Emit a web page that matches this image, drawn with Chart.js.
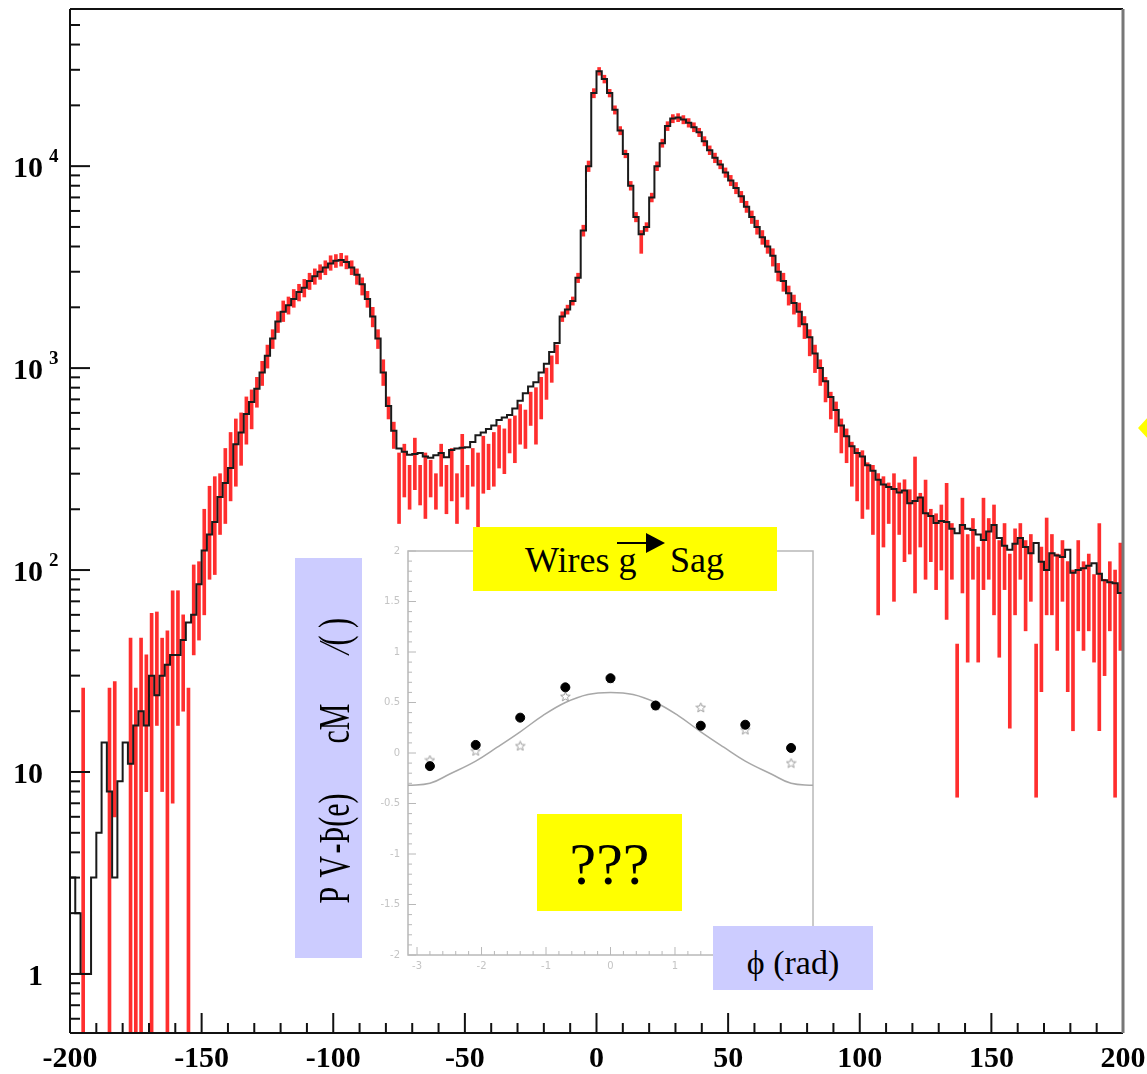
<!DOCTYPE html>
<html>
<head>
<meta charset="utf-8">
<title>Counts vs position, with sag inset</title>
<script src="https://cdn.jsdelivr.net/npm/chart.js@4.4.1/dist/chart.umd.min.js"></script>
<style>
  html, body { margin: 0; padding: 0; background: #fff; }
  #page { position: relative; width: 1147px; height: 1074px; overflow: hidden; }
  canvas { position: absolute; }
  #main { left: 0; top: 0; }
  #inset { left: 360px; top: 530px; }
  .note { position: absolute; font-family: 'Liberation Serif', 'Times New Roman', serif; color: #000; }
  .note span { position: absolute; white-space: pre; }
  .yellow { background: #ffff00; }
  .blue { background: #ccccff; }
</style>
</head>
<body>
<div id="page">
  <canvas id="main" width="1147" height="1074"></canvas>
  <canvas id="inset" width="470" height="460"></canvas>

  <div class="note yellow" style="left:473px;top:527px;width:304px;height:64px;font-size:36px;line-height:36px;">
    <span style="left:52px;top:15px;">Wires g</span>
    <span style="left:197px;top:15px;">Sag</span>
    <div style="position:absolute;left:144px;top:15px;width:30px;height:2px;background:#000;"></div>
    <div style="position:absolute;left:173px;top:6px;width:0;height:0;border-left:19px solid #000;border-top:10px solid transparent;border-bottom:10px solid transparent;"></div>
  </div>

  <div class="note yellow" style="left:537px;top:814px;width:145px;height:97px;">
    <span style="left:0;top:20px;width:145px;text-align:center;font-size:60px;line-height:60px;">???</span>
  </div>

  <div class="note blue" style="left:713px;top:926px;width:160px;height:64px;">
    <span style="left:0;top:20px;width:160px;text-align:center;font-size:34px;line-height:34px;">ϕ (rad)</span>
  </div>

  <div class="note blue" style="left:295px;top:558px;width:67px;height:400px;">
    <div style="position:absolute;left:-166.5px;top:166.5px;width:400px;height:67px;transform:rotate(-90deg) scaleY(1.45);font-size:30px;line-height:30px;">
      <span style="left:55px;top:22px;">P</span>
      <span style="left:81px;top:22px;">V</span>
      <span style="left:105px;top:22px;">-Þ(e)</span>
      <span style="left:215px;top:22px;">cM</span>
      <span style="left:308px;top:22px;">⁄( )</span>
    </div>
  </div>

  <div style="position:absolute;left:1138px;top:416px;width:0;height:0;border-right:11px solid #ffff00;border-top:12px solid transparent;border-bottom:12px solid transparent;"></div>
</div>

<script>
// histogram binning: 200 bins of width 2 from -200 to 200
const xStart = -200;
const binWidth = 2;

const blackCounts = [
    3, 2, 1, 1, 3, 5, 14, 8, 3, 9,
    14, 11, 17, 20, 17, 30, 24, 30, 34, 38,
    38, 45, 55, 60, 85, 125, 150, 173, 230, 270,
    320, 420, 480, 593, 680, 790, 950, 1150, 1400, 1700,
    1900, 2050, 2200, 2380, 2500, 2700, 2850, 3000, 3150, 3300,
    3400, 3430, 3350, 3150, 2900, 2600, 2200, 1800, 1400, 950,
    650, 490, 400, 385, 372, 375, 380, 365, 360, 370,
    380, 362, 393, 400, 403, 406, 430, 465, 480, 500,
    520, 553, 570, 585, 630, 690, 750, 810, 850, 950,
    1050, 1200, 1330, 1800, 1950, 2150, 2800, 4800, 10000, 23000,
    29500, 27000, 23000, 19000, 15000, 11500, 8000, 5600, 4600, 5000,
    7000, 10000, 13000, 15800, 17200, 17400, 17000, 16400, 15600, 14700,
    13300, 12000, 11000, 10200, 9300, 8500, 7800, 7100, 6300, 5600,
    5000, 4450, 4000, 3600, 3000, 2700, 2350, 2100, 1900, 1650,
    1420, 1180, 1000, 860, 720, 620, 520, 460, 410, 380,
    365, 330, 310, 280, 265, 258, 252, 242, 248, 214,
    220, 229, 191, 185, 171, 175, 173, 160, 152, 167,
    160, 158, 150, 141, 155, 167, 144, 132, 126, 135,
    144, 130, 121, 136, 110, 100, 121, 118, 116, 126,
    97, 100, 102, 105, 108, 96, 89, 87, 86, 77,
];

// red error bars, lower and upper ends (null = empty bin)
const redLow = [
    null, null, 0.1, null, null, null, null, 0.1, 6, null,
    null, 0.1, 0.1, 0.1, 8, 0.1, 17, 8, 0.1, 7,
    17, 20, 0.1, 38, 45, 60, 90, 95, 150, 170,
    220, 260, 330, 420, 500, 640, 820, 1000, 1250, 1500,
    1700, 1850, 2000, 2150, 2250, 2450, 2600, 2750, 2900, 3050,
    3150, 3200, 3100, 2900, 2600, 2300, 2000, 1600, 1250, 820,
    560, 400, 170, 230, 200, 250, 210, 180, 230, 200,
    260, 190, 220, 170, 230, 200, 260, 160, 240, 250,
    260, 320, 300, 380, 340, 420, 400, 520, 420, 560,
    700, 850, 1050, 1700, 1850, 2050, 2650, 4500, 9400, 21800,
    28200, 25800, 22000, 18100, 14300, 11000, 7600, 5300, 3700, 4750,
    6650, 9500, 12400, 15000, 16400, 16600, 16200, 15600, 14800, 14000,
    12600, 11400, 10400, 9700, 8800, 8000, 7300, 6600, 5900, 5200,
    4600, 4100, 3700, 3200, 2700, 2400, 2050, 1850, 1600, 1400,
    1150, 950, 820, 680, 560, 480, 380, 340, 260, 220,
    180, 200, 150, 60, 130, 170, 70, 150, 110, 120,
    77, 130, 90, 110, 80, 100, 57, 90, 7.5, 77,
    35, 90, 35, 80, 90, 60, 37, 80, 16.5, 60,
    90, 50, 70, 7.5, 25, 60, 60, 40, 70, 25,
    16, 50, 40, 50, 35, 16, 30, 50, 7.5, 40,
];
const redHigh = [
    null, null, 26, null, null, null, null, 26, 28, null,
    null, 46, 26, 46, 38, 61, 62, 46, 50, 79,
    79, 60, 26, 106, 110, 200, 260, 290, 300, 400,
    480, 560, 600, 720, 780, 900, 1080, 1300, 1550, 1900,
    2150, 2250, 2450, 2600, 2750, 2950, 3100, 3250, 3400, 3600,
    3650, 3700, 3600, 3400, 3100, 2800, 2400, 2000, 1550, 1100,
    720, 540, 380, 420, 330, 450, 330, 380, 350, 300,
    420, 330, 400, 300, 470, 330, 400, 380, 460, 420,
    480, 520, 500, 560, 580, 660, 620, 760, 800, 900,
    1000, 1150, 1300, 1900, 2050, 2250, 2950, 5100, 10600, 24200,
    30800, 28200, 24000, 19900, 15700, 12000, 8400, 5900, 4800, 5250,
    7350, 10500, 13600, 16600, 18000, 18200, 17800, 17200, 16400, 15400,
    14000, 12600, 11600, 10700, 9800, 9000, 8300, 7500, 6700, 6000,
    5400, 4800, 4300, 3900, 3300, 2950, 2550, 2300, 2100, 1800,
    1550, 1300, 1100, 900, 760, 680, 560, 500, 430, 400,
    390, 340, 330, 300, 290, 270, 300, 270, 280, 250,
    363, 240, 279, 200, 190, 210, 269, 170, 43, 227,
    150, 180, 130, 227, 180, 210, 140, 170, 120, 160,
    170, 140, 150, 43, 130, 181, 150, 120, 140, 110,
    100, 140, 110, 120, 95, 170, 90, 110, 100, 136,
];

const xTickLabels = [-200, -150, -100, -50, 0, 50, 100, 150, 200];
const yTickPowers = [0, 1, 2, 3, 4];

// inset: sag vs phi
const insetPhi = [-2.80, -2.09, -1.40, -0.70, 0.00, 0.70, 1.40, 2.09, 2.80];
const insetDots = [-0.13, 0.08, 0.35, 0.65, 0.74, 0.47, 0.27, 0.28, 0.05];
const insetStars = [-0.07, 0.02, 0.07, 0.56, 0.74, 0.47, 0.45, 0.23, -0.10];
const fitPhi = [-3.14, -2.8, -2.5, -2.09, -1.75, -1.4, -1.05, -0.7, -0.35, 0, 0.35, 0.7, 1.05, 1.4, 1.75, 2.09, 2.5, 2.8, 3.14];
const fitValues = [-0.32, -0.30, -0.21, -0.08, 0.06, 0.21, 0.37, 0.50, 0.58, 0.60, 0.58, 0.50, 0.37, 0.21, 0.06, -0.08, -0.21, -0.30, -0.32];
const insetXTicks = [-3, -2, -1, 0, 1, 2, 3];
const insetYTicks = [-2, -1.5, -1, -0.5, 0, 0.5, 1, 1.5, 2];

const serif = "'Liberation Serif', 'Times New Roman', serif";

function blackSteps() {
    let pts = blackCounts.map((v, i) => ({x: xStart + i * binWidth, y: v}));
    pts.push({x: xStart + blackCounts.length * binWidth, y: blackCounts[blackCounts.length - 1]});
    return pts;
}

function redBars() {
    let bars = [];
    redLow.forEach((lo, i) => {
        if (lo === null) return;
        bars.push({x: xStart + (i + 0.5) * binWidth, y: [lo, redHigh[i]]});
    });
    return bars;
}

function line(ctx, x1, y1, x2, y2) {
    ctx.beginPath();
    ctx.moveTo(x1, y1);
    ctx.lineTo(x2, y2);
    ctx.stroke();
}

// hollow five point star used as marker in the inset
function starMarker() {
    let c = document.createElement('canvas');
    c.width = 11;
    c.height = 11;
    let g = c.getContext('2d');
    g.strokeStyle = '#9c9c9c';
    g.lineWidth = 1;
    g.beginPath();
    for (let k = 0; k < 10; k++) {
        const r = k % 2 === 0 ? 5 : 2.2;
        const ang = -Math.PI / 2 + k * Math.PI / 5;
        const px = 5.5 + r * Math.cos(ang);
        const py = 5.8 + r * Math.sin(ang);
        if (k === 0) g.moveTo(px, py); else g.lineTo(px, py);
    }
    g.closePath();
    g.stroke();
    return c;
}

// ROOT style frame with inward ticks and 10^n labels
const mainFrame = {
    id: 'mainFrame',
    afterDatasetsDraw(chart) {
        const {ctx, chartArea: a, scales: {x, y}} = chart;
        ctx.save();
        ctx.strokeStyle = '#111';
        ctx.lineWidth = 2;
        for (let v = -200; v <= 200; v += 10) {
            const px = x.getPixelForValue(v);
            line(ctx, px, a.bottom, px, a.bottom - (v % 50 === 0 ? 20 : 10));
        }
        for (let e = -1; e <= 4; e++) {
            for (let m = 1; m <= 9; m++) {
                const v = m * Math.pow(10, e);
                if (v < y.min || v > y.max) continue;
                const py = y.getPixelForValue(v);
                line(ctx, a.left, py, a.left + (m === 1 ? 20 : 10), py);
            }
        }
        line(ctx, a.left, a.top, a.right, a.top);
        line(ctx, a.left, a.top, a.left, a.bottom);
        line(ctx, a.left, a.bottom, a.right, a.bottom);
        ctx.strokeStyle = '#777';
        ctx.lineWidth = 3;
        line(ctx, a.right, a.top, a.right, a.bottom);

        ctx.fillStyle = '#000';
        ctx.textBaseline = 'middle';
        yTickPowers.forEach(p => {
            const py = y.getPixelForValue(Math.pow(10, p));
            ctx.font = 'bold 30px ' + serif;
            ctx.textAlign = 'right';
            ctx.fillText(p === 0 ? '1' : '10', 43, py + 3);
            if (p > 1) {
                ctx.font = 'bold 19px ' + serif;
                ctx.textAlign = 'left';
                ctx.fillText(String(p), 49, py - 9);
            }
        });
        ctx.restore();
    },
};

new Chart(document.getElementById('main'), {
    type: 'line',
    data: {
        datasets: [{
            type: 'line',
            data: blackSteps(),
            stepped: true,
            borderColor: '#1a1a1a',
            borderWidth: 2,
            pointRadius: 0,
            fill: false,
        }, {
            type: 'bar',
            data: redBars(),
            backgroundColor: 'rgba(255, 0, 0, 0.82)',
            borderWidth: 0,
            barThickness: 3,
            clip: 0,
        }],
    },
    options: {
        responsive: false,
        animation: false,
        events: [],
        layout: {
            padding: {top: 9, right: 24, left: 0, bottom: 0},
        },
        plugins: {
            legend: {display: false},
            tooltip: {enabled: false},
        },
        scales: {
            x: {
                type: 'linear',
                min: -200,
                max: 200,
                offset: false,
                afterBuildTicks: scale => {
                    scale.ticks = xTickLabels.map(v => ({value: v}));
                },
                afterFit: scale => {
                    scale.height = 41;
                    scale.paddingLeft = 0;
                    scale.paddingRight = 0;
                },
                grid: {display: false, drawTicks: false},
                border: {display: false},
                ticks: {
                    autoSkip: false,
                    maxRotation: 0,
                    padding: 8,
                    color: '#000',
                    font: {family: serif, weight: 'bold', size: 30},
                },
            },
            y: {
                type: 'logarithmic',
                min: 0.51,
                max: 60000,
                afterFit: scale => {
                    scale.width = 70;
                    scale.paddingTop = 0;
                    scale.paddingBottom = 0;
                },
                grid: {display: false, drawTicks: false},
                border: {display: false},
                ticks: {display: false},
            },
        },
    },
    plugins: [mainFrame],
});

// grey frame and small inward ticks of the inset
const insetFrame = {
    id: 'insetFrame',
    beforeDatasetsDraw(chart) {
        const {ctx, chartArea: a, scales: {x, y}} = chart;
        ctx.save();
        ctx.strokeStyle = '#b8b8b8';
        ctx.lineWidth = 1.5;
        ctx.strokeRect(a.left, a.top, a.right - a.left, a.bottom - a.top);
        ctx.lineWidth = 1;
        for (let k = -20; k <= 20; k++) {
            const py = y.getPixelForValue(k / 10);
            line(ctx, a.left, py, a.left + (k % 5 === 0 ? 8 : 4), py);
        }
        for (let k = -15; k <= 15; k++) {
            const px = x.getPixelForValue(k / 5);
            line(ctx, px, a.bottom, px, a.bottom - (k % 5 === 0 ? 8 : 4));
        }
        ctx.restore();
    },
};

new Chart(document.getElementById('inset'), {
    type: 'scatter',
    data: {
        datasets: [{
            data: insetPhi.map((p, i) => ({x: p, y: insetDots[i]})),
            pointStyle: 'circle',
            pointRadius: 4.5,
            backgroundColor: '#000',
            borderColor: '#000',
        }, {
            data: insetPhi.map((p, i) => ({x: p, y: insetStars[i]})),
            pointStyle: starMarker(),
        }, {
            type: 'line',
            data: fitPhi.map((p, i) => ({x: p, y: fitValues[i]})),
            tension: 0.4,
            borderColor: '#a8a8a8',
            borderWidth: 1.5,
            pointRadius: 0,
            fill: false,
        }],
    },
    options: {
        responsive: false,
        animation: false,
        events: [],
        layout: {
            padding: {top: 21, right: 17, left: 0, bottom: 0},
        },
        plugins: {
            legend: {display: false},
            tooltip: {enabled: false},
        },
        scales: {
            x: {
                type: 'linear',
                min: -3.14,
                max: 3.14,
                afterBuildTicks: scale => {
                    scale.ticks = insetXTicks.map(v => ({value: v}));
                },
                afterFit: scale => {
                    scale.height = 35;
                },
                grid: {display: false, drawTicks: false},
                border: {display: false},
                ticks: {
                    autoSkip: false,
                    maxRotation: 0,
                    padding: 5,
                    color: '#c4c4c4',
                    font: {family: 'DejaVu Sans', size: 10},
                    callback: v => String(v),
                },
            },
            y: {
                type: 'linear',
                min: -2,
                max: 2,
                afterBuildTicks: scale => {
                    scale.ticks = insetYTicks.map(v => ({value: v}));
                },
                afterFit: scale => {
                    scale.width = 48;
                },
                grid: {display: false, drawTicks: false},
                border: {display: false},
                ticks: {
                    padding: 8,
                    color: '#c4c4c4',
                    font: {family: 'DejaVu Sans', size: 10},
                    callback: v => String(v),
                },
            },
        },
    },
    plugins: [insetFrame],
});
</script>
</body>
</html>
